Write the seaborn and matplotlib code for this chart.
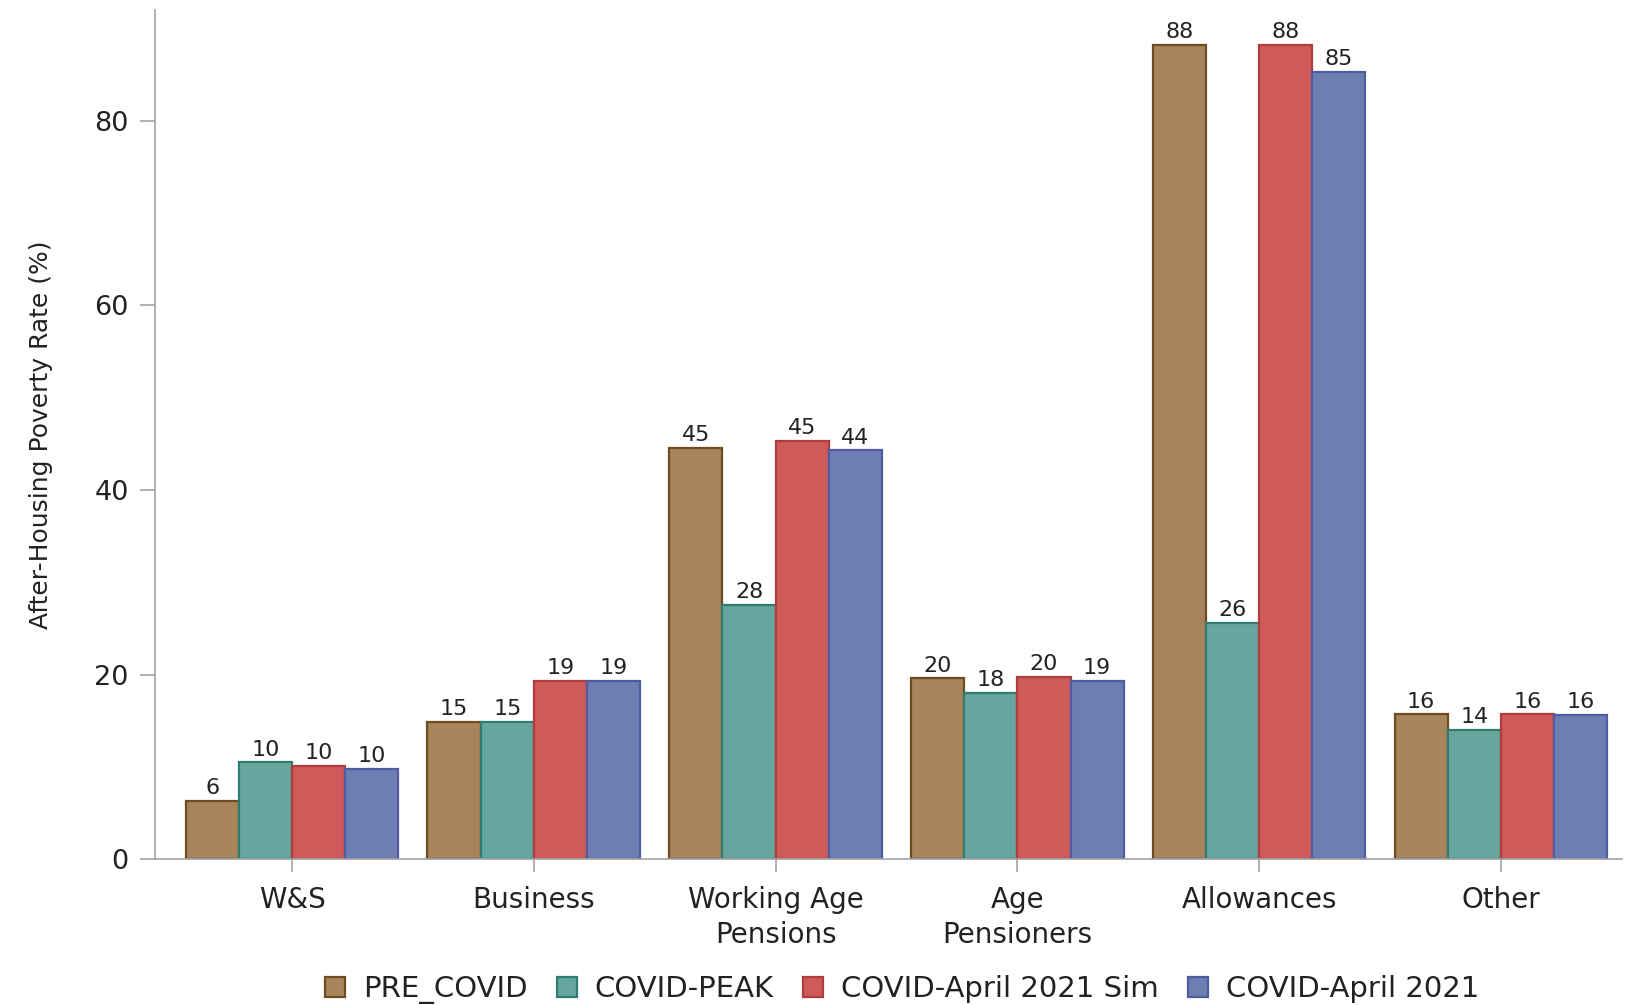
import matplotlib
matplotlib.use("Agg")
import matplotlib.pyplot as plt
import seaborn as sns
import pandas as pd
from matplotlib.patches import Patch

categories = ["W&S", "Business", "Working Age\nPensions", "Age\nPensioners", "Allowances", "Other"]
series = ["PRE_COVID", "COVID-PEAK", "COVID-April 2021 Sim", "COVID-April 2021"]
pre_covid = [6.3, 14.9, 44.6, 19.6, 88.2, 15.7]
covid_peak = [10.5, 14.9, 27.6, 18.0, 25.6, 14.0]
april_sim = [10.1, 19.3, 45.3, 19.8, 88.2, 15.7]
april_2021 = [9.8, 19.3, 44.3, 19.3, 85.3, 15.6]

fills = ["#A8845A", "#66A69E", "#D05A5A", "#6E7DB2"]
edges = ["#6E4C22", "#2F7C70", "#B03C3C", "#4E5DA2"]

rows = []
for s, vals in zip(series, [pre_covid, covid_peak, april_sim, april_2021]):
    for c, v in zip(categories, vals):
        rows.append({"cat": c, "series": s, "val": v})
df = pd.DataFrame(rows)

sns.set_style("white")
plt.rcParams["font.family"] = ["DejaVu Sans"]

fig = plt.figure(figsize=(16.25, 10.05), dpi=100)
ax = fig.add_axes([0.0954, 0.145, 0.9026, 0.845])

sns.barplot(data=df, x="cat", y="val", hue="series", order=categories,
            hue_order=series, palette=fills, width=0.88, saturation=1,
            legend=False, ax=ax)

for cont, ec in zip(ax.containers, edges):
    for p in cont.patches:
        p.set_edgecolor(ec)
        p.set_linewidth(1.6)
    ax.bar_label(cont, fmt="%.0f", padding=2, fontsize=16, color="#222222")

ax.set_xlim(-0.567, 5.5)
ax.set_ylim(0, 92)
ax.set_yticks([0, 20, 40, 60, 80])
ax.set_xlabel("")
ax.set_ylabel("After-Housing Poverty Rate (%)", fontsize=18, color="#222222", labelpad=30)
ax.tick_params(axis="both", which="both", width=1.2, color="#A0A4AA",
               labelsize=20, labelcolor="#222222", direction="out",
               bottom=True, left=True)
ax.tick_params(axis="y", length=11, pad=8, labelsize=19.5)
ax.tick_params(axis="x", length=9, pad=10)
for lbl in ax.get_xticklabels():
    lbl.set_linespacing(1.35)
for side in ["top", "right"]:
    ax.spines[side].set_visible(False)
for side in ["left", "bottom"]:
    ax.spines[side].set_color("#A0A4AA")
    ax.spines[side].set_linewidth(1.2)

handles = [Patch(facecolor=f, edgecolor=e, linewidth=1.6) for f, e in zip(fills, edges)]
fig.legend(handles, series, loc="center", bbox_to_anchor=(0.555, 0.015), ncol=4,
           frameon=False, fontsize=21, handlelength=0.7, handleheight=0.7,
           handletextpad=0.6, columnspacing=1.0, labelcolor="#222222")

fig.savefig("out.png", dpi=100)
